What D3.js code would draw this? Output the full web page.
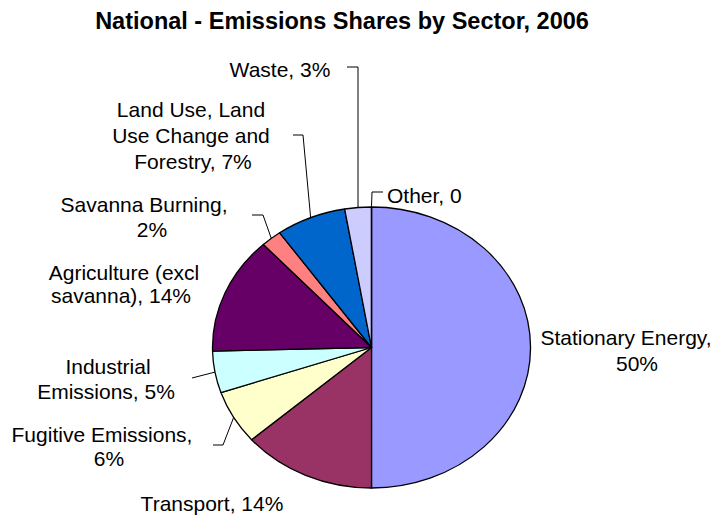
<!DOCTYPE html>
<html>
<head>
<meta charset="utf-8">
<script src="https://cdn.jsdelivr.net/npm/d3@7"></script>
<style>
  html, body { margin: 0; padding: 0; background: #fff; }
  svg { display: block; font-family: "Liberation Sans", Arial, sans-serif; }
</style>
</head>
<body>
<div id="chart"></div>
<script>
// data
const title = "National - Emissions Shares by Sector, 2006";
const sectors = ["Stationary Energy", "Transport", "Fugitive Emissions", "Industrial Emissions",
  "Agriculture (excl savanna)", "Savanna Burning", "Land Use, Land Use Change and Forestry", "Waste", "Other"];
const shares = [50.0, 13.6, 6.2, 4.8, 13.5, 2.1, 7.1, 2.7, 0];
const labelText = [
  ["Stationary Energy,", "50%"],
  ["Transport, 14%"],
  ["Fugitive Emissions,", "6%"],
  ["Industrial", "Emissions, 5%"],
  ["Agriculture (excl", "savanna), 14%"],
  ["Savanna Burning,", "2%"],
  ["Land Use, Land", "Use Change and", "Forestry, 7%"],
  ["Waste, 3%"],
  ["Other, 0"]
];
const colors = ["#9999ff", "#993366", "#ffffcc", "#ccffff", "#660066", "#ff8080", "#0066cc", "#ccccff", "#ffffff"];

// layout
const width = 715, height = 515;
const cx = 371.5, cy = 347.5, rx = 159, ry = 140.5;

// label placement: per line [centre x, baseline], plus leader start / elbow
const labelLayout = [
  { lines: [[626, 345], [637, 371]] },
  { lines: [[212, 511]] },
  { lines: [[102, 442], [109, 466]], leader: [[213, 445], [223, 445]] },
  { lines: [[108, 374], [106, 399]], leader: [[192, 378]] },
  { lines: [[124, 280], [121, 303]] },
  { lines: [[144, 212], [152, 237]], leader: [[252, 215], [263, 215]] },
  { lines: [[191, 117], [191, 143], [193, 169]], leader: [[293, 135], [303, 135]] },
  { lines: [[280, 77]], leader: [[347, 67], [358, 67]] },
  { lines: [[387, 203]], anchor: "start", leader: [[383, 192], [372, 192]] }
];

const svg = d3.select("#chart").append("svg")
  .attr("width", width)
  .attr("height", height);

svg.append("text")
  .attr("x", 342)
  .attr("y", 29)
  .attr("text-anchor", "middle")
  .attr("font-size", 23.5)
  .attr("font-weight", "bold")
  .attr("fill", "#000")
  .text(title);

const pie = d3.pie().sort(null).value(d => d);
const arcs = pie(shares);
const arc = d3.arc().innerRadius(0).outerRadius(rx);

svg.append("g")
  .attr("transform", "translate(" + cx + "," + cy + ") scale(1," + (ry / rx) + ")")
  .selectAll("path")
  .data(arcs)
  .enter().append("path")
  .attr("d", arc)
  .attr("fill", (d, i) => colors[i])
  .attr("stroke", "#000")
  .attr("stroke-width", 1.3)
  .attr("stroke-linejoin", "round")
  .attr("vector-effect", "non-scaling-stroke");

// point on the ellipse edge at the middle of a slice
function edgePoint(d) {
  const a = (d.startAngle + d.endAngle) / 2;
  return [cx + rx * Math.sin(a), cy - ry * Math.cos(a)];
}

const line = d3.line();
const leaders = svg.append("g").attr("class", "leaders");
arcs.forEach((d, i) => {
  const lay = labelLayout[i];
  if (!lay.leader) return;
  leaders.append("path")
    .attr("d", line(lay.leader.concat([edgePoint(d)])))
    .attr("fill", "none")
    .attr("stroke", "#000")
    .attr("stroke-width", 1);
});

const labels = svg.append("g").attr("class", "labels");
labelText.forEach((lines, i) => {
  const lay = labelLayout[i];
  lines.forEach((t, j) => {
    labels.append("text")
      .attr("x", lay.lines[j][0])
      .attr("y", lay.lines[j][1])
      .attr("text-anchor", lay.anchor || "middle")
      .attr("font-size", 21)
      .attr("fill", "#000")
      .text(t);
  });
});
</script>
</body>
</html>
